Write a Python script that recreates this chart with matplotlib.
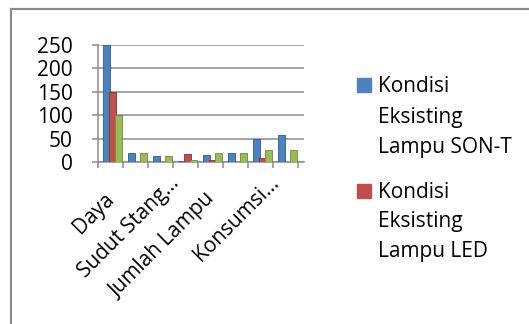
import numpy as np
import matplotlib
matplotlib.use('Agg')
import matplotlib.pyplot as plt
from matplotlib.patches import Rectangle
from matplotlib.lines import Line2D

plt.rcParams['font.family'] = ['Open Sans', 'DejaVu Sans']

# data
categories = ["Daya", "Tinggi Tiang", "Sudut Stang…", "Jarak Tiang",
              "Jumlah Lampu", "Lebar Jalan", "Konsumsi…", "Biaya"]
son_t = [250, 20, 12, 3, 15, 20, 50, 58]
led = [150, 0, 0, 18, 5, 0, 8, 0]
ketiga = [100, 20, 12, 5, 20, 20, 25, 25]
series_names = ["Kondisi\nEksisting\nLampu SON-T",
                "Kondisi\nEksisting\nLampu LED"]
colors = ["#4F81BD", "#C0504D", "#9BBB59"]
edges = ["#2C5A8E", "#8E2F2C", "#6E8B3A"]

W, H = 529, 324
fig = plt.figure(figsize=(W/100, H/100), dpi=100)
ax = fig.add_axes([98/W, 162/H, 206/W, 117/H])

x = np.arange(len(categories))
offs = [0.34, 0.58, 0.82]
for vals, off, c, ec in zip([son_t, led, ketiga], offs, colors, edges):
    ax.bar(x + off, vals, width=0.26, color=c, edgecolor=ec, linewidth=0.6, zorder=3)

ax.set_xlim(0, 8.24)
ax.set_ylim(0, 250)
ax.set_yticks([0, 50, 100, 150, 200, 250])
ax.yaxis.grid(True, color="#8c8c8c", linewidth=1.1, zorder=0)
ax.set_xticks(np.arange(0, 9))
ax.set_xticklabels([])
ax.tick_params(axis='x', length=4.3, width=1.1, color="#8c8c8c")
ax.tick_params(axis='y', length=4.3, width=1.1, color="#8c8c8c", labelsize=15, pad=14)
for s in ['top', 'right']:
    ax.spines[s].set_visible(False)
for s in ['left', 'bottom']:
    ax.spines[s].set_color("#8c8c8c")
    ax.spines[s].set_linewidth(1.1)

# every other category label, like the original (truncated ones sit further out)
for i in range(0, len(categories), 2):
    lab = categories[i]
    off = (15, -18) if lab.endswith("…") else (1, -34)
    ax.annotate(lab, xy=(i + 0.5, 0), xycoords='data',
                xytext=off, textcoords='offset pixels',
                rotation=45, ha='right', va='center', rotation_mode='anchor',
                fontsize=15)

# legend (only the first two entries are visible)
sq_top = [78, 184]
baselines = [[92, 122.5, 153], [198, 227.5, 257]]
for name, c, top, bl in zip(series_names, colors, sq_top, baselines):
    fig.patches.append(Rectangle((357/W, 1 - (top + 14)/H), 14/W, 14/H,
                                 transform=fig.transFigure, color=c))
    for line, yb in zip(name.split("\n"), bl):
        fig.text(378/W, 1 - yb/H, line, fontsize=15, va='baseline', ha='left')

# outer frame
fig.add_artist(Line2D([11/W, 1], [1 - 9/H, 1 - 9/H], color="#8a8a8a", lw=1.5))
fig.add_artist(Line2D([11/W, 11/W], [0, 1 - 9/H], color="#8a8a8a", lw=1.5))

fig.savefig("out.png", dpi=100)
